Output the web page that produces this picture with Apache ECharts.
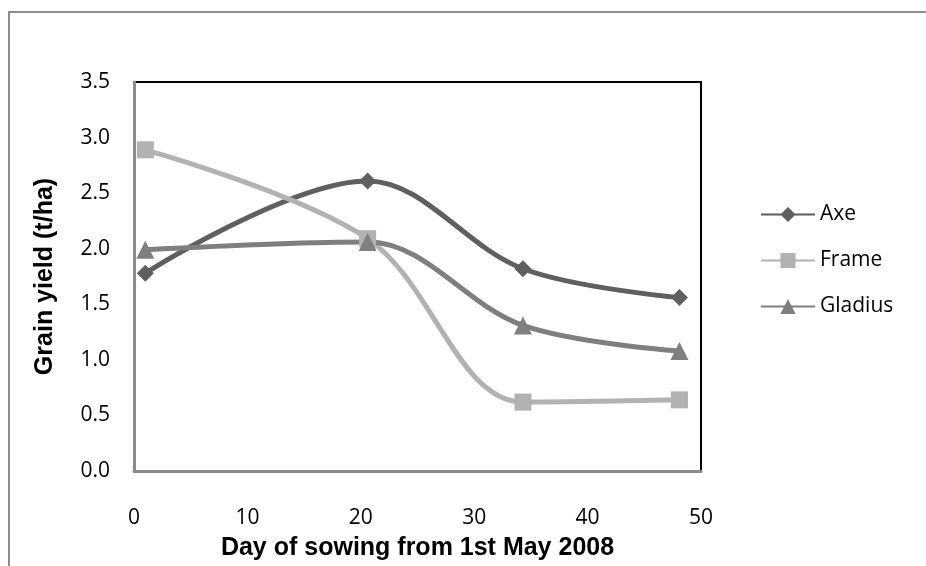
<!DOCTYPE html>
<html><head><meta charset="utf-8">
<script src="https://cdn.jsdelivr.net/npm/echarts@6/dist/echarts.min.js"></script>
<style>html,body{margin:0;padding:0;background:#fff}#c{width:926px;height:566px}</style>
</head><body><div id="c"></div>
<script>
const days = [1, 20.6, 34.3, 48.1];
const axe = [1.78, 2.61, 1.82, 1.56];
const frame = [2.89, 2.09, 0.62, 0.64];
const gladius = [1.99, 2.06, 1.31, 1.08];
const seriesNames = ['Axe', 'Frame', 'Gladius'];
const xTitle = 'Day of sowing from 1st May 2008';
const yTitle = 'Grain yield (t/ha)';

const pts = v => days.map((d, i) => [d, v[i]]);
const chart = echarts.init(document.getElementById('c'), null, {renderer: 'canvas'});
const lab = {color: '#000', fontFamily: 'Open Sans', fontSize: 21};
function s(name, data, color, symbol, size) {
  return {name, type: 'line', data: pts(data), smooth: 0.35, symbol, symbolSize: size,
    lineStyle: {color, width: 5}, itemStyle: {color}, z: 3};
}
chart.setOption({
  animation: false,
  graphic: [{type: 'rect', shape: {x: 9, y: 12, width: 1000, height: 700},
    style: {fill: 'none', stroke: '#8c8c8c', lineWidth: 2}, z: -1}],
  grid: {left: 134, top: 82, width: 567, height: 393, show: true, borderColor: '#000', borderWidth: 2, backgroundColor: 'transparent'},
  legend: {orient: 'vertical', left: 755, top: 199, itemWidth: 54, itemHeight: 19, itemGap: 25,
    textStyle: Object.assign({}, lab), data: seriesNames},
  xAxis: {type: 'value', min: 0, max: 50, interval: 10, name: xTitle, nameLocation: 'middle', nameGap: 65,
    nameTextStyle: {fontFamily: 'Liberation Sans', fontWeight: 'bold', fontSize: 25, color: '#000'},
    axisLine: {show: true, onZero: false, lineStyle: {color: '#8c8c8c', width: 3}},
    axisTick: {show: false}, splitLine: {show: false}, axisLabel: Object.assign({margin: 37}, lab)},
  yAxis: {type: 'value', min: 0, max: 3.5, interval: 0.5, name: yTitle, nameLocation: 'middle', nameGap: 76,
    nameTextStyle: {fontFamily: 'Liberation Sans', fontWeight: 'bold', fontSize: 25, color: '#000'},
    axisLine: {show: true, lineStyle: {color: '#8c8c8c', width: 3}},
    axisTick: {show: false}, splitLine: {show: false},
    axisLabel: Object.assign({margin: 24, formatter: v => v.toFixed(1)}, lab)},
  series: [
    s('Axe', axe, '#5f5f5f', 'diamond', 17),
    s('Frame', frame, '#b2b2b2', 'rect', 17),
    s('Gladius', gladius, '#7f7f7f', 'triangle', 18)
  ]
});
</script></body></html>
